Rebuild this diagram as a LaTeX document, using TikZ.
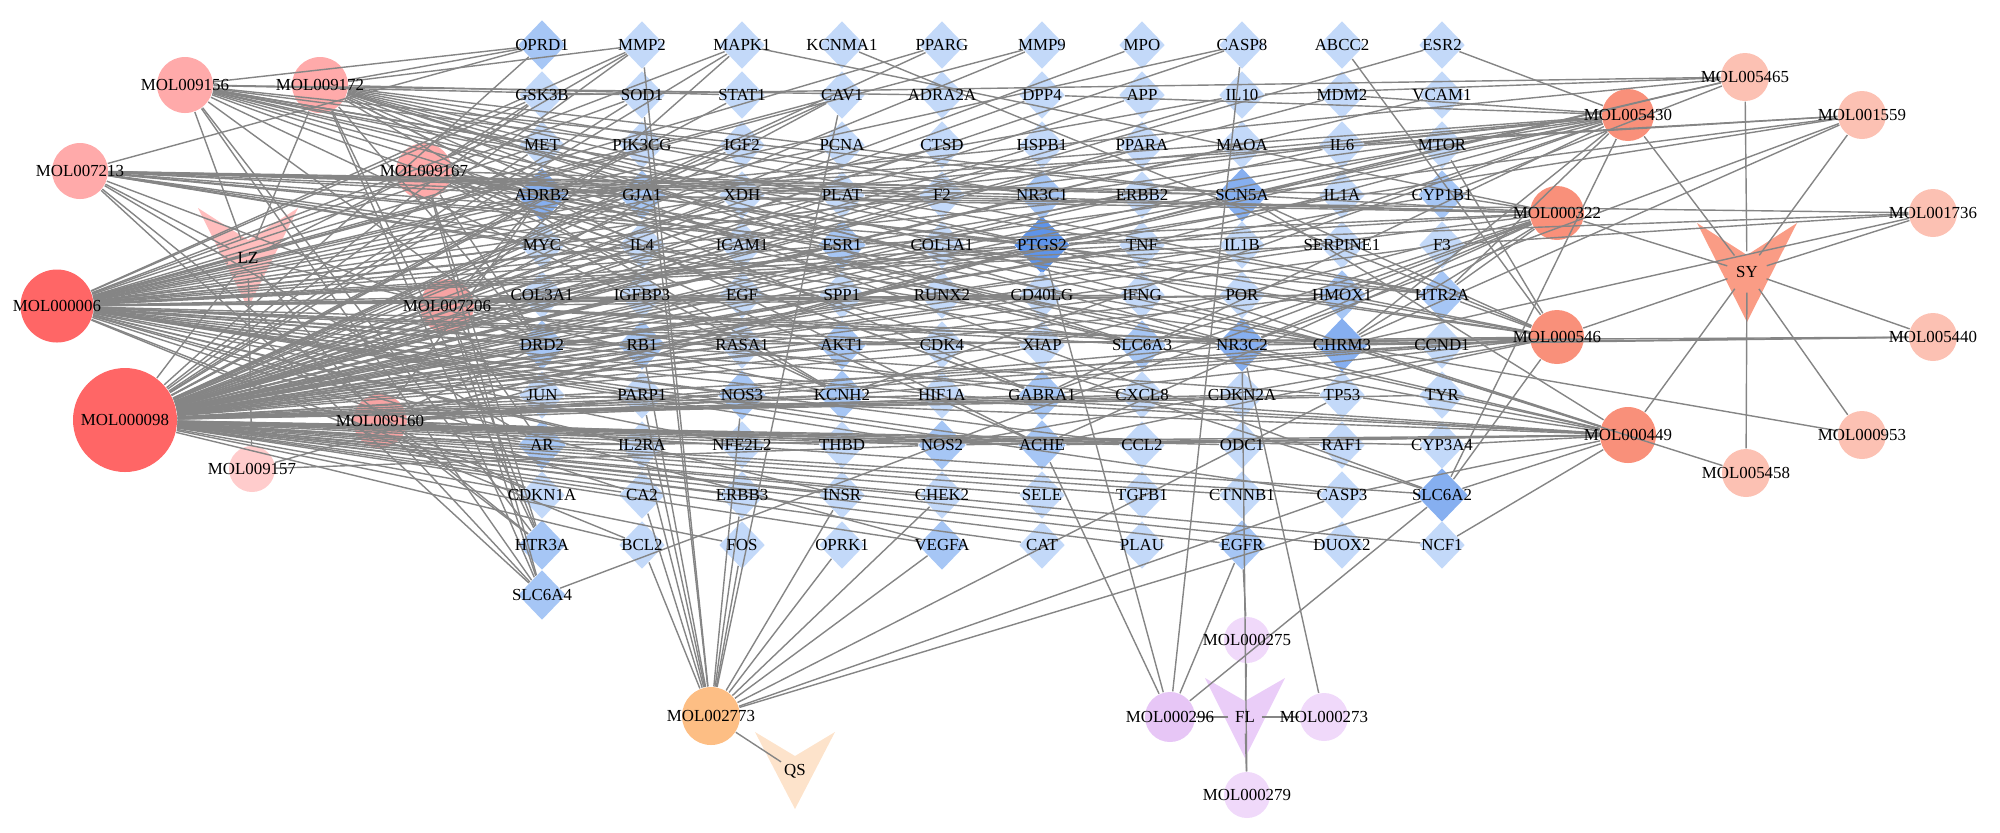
\documentclass[tikz,border=0pt]{standalone}
\usepackage{fontspec}
\setmainfont{Liberation Serif}
\usetikzlibrary{shapes.geometric}
\definecolor{d1}{HTML}{C3D9F9}
\definecolor{d2}{HTML}{A6C6F5}
\definecolor{d3}{HTML}{86AFF0}
\definecolor{d4}{HTML}{5E94EA}
\definecolor{cRed}{HTML}{FF6666}
\definecolor{cPink}{HTML}{FFAAAA}
\definecolor{cPinkM}{HTML}{F6A3A3}
\definecolor{cPinkL}{HTML}{FFCCCC}
\definecolor{cLZ}{HTML}{FFBDBD}
\definecolor{cSal}{HTML}{F9907A}
\definecolor{cSalL}{HTML}{FCC1B3}
\definecolor{cSY}{HTML}{FA9C85}
\definecolor{cOr}{HTML}{FDBE84}
\definecolor{cQS}{HTML}{FDE3CB}
\definecolor{cLav}{HTML}{E7C6F6}
\definecolor{cLavL}{HTML}{F0D9FA}
\definecolor{cFL}{HTML}{EACDF8}
\definecolor{lnc}{HTML}{858585}
\newcommand\linkall[2]{\foreach \tgt in {#2}{\draw[lnk] (#1) -- (\tgt);}}
\def\tlist{OPRD1/2,MMP2/1,MAPK1/1,KCNMA1/1,PPARG/1,MMP9/1,MPO/1,CASP8/1,ABCC2/1,ESR2/1,
GSK3B/1,SOD1/1,STAT1/1,CAV1/1,ADRA2A/1,DPP4/1,APP/1,IL10/1,MDM2/1,VCAM1/1,
MET/1,PIK3CG/1,IGF2/1,PCNA/1,CTSD/1,HSPB1/1,PPARA/1,MAOA/1,IL6/1,MTOR/1,
ADRB2/3,GJA1/2,XDH/1,PLAT/1,F2/1,NR3C1/2,ERBB2/1,SCN5A/3,IL1A/1,CYP1B1/2,
MYC/1,IL4/1,ICAM1/1,ESR1/2,COL1A1/1,PTGS2/4,TNF/1,IL1B/1,SERPINE1/1,F3/1,
COL3A1/1,IGFBP3/1,EGF/1,SPP1/1,RUNX2/1,CD40LG/1,IFNG/1,POR/1,HMOX1/2,HTR2A/2,
DRD2/2,RB1/2,RASA1/1,AKT1/2,CDK4/1,XIAP/1,SLC6A3/2,NR3C2/3,CHRM3/3,CCND1/1,
JUN/1,PARP1/1,NOS3/2,KCNH2/2,HIF1A/1,GABRA1/2,CXCL8/1,CDKN2A/1,TP53/1,TYR/1,
AR/2,IL2RA/1,NFE2L2/1,THBD/1,NOS2/2,ACHE/2,CCL2/1,ODC1/1,RAF1/1,CYP3A4/1,
CDKN1A/1,CA2/1,ERBB3/1,INSR/1,CHEK2/1,SELE/1,TGFB1/1,CTNNB1/1,CASP3/1,SLC6A2/3,
HTR3A/2,BCL2/1,FOS/1,OPRK1/1,VEGFA/2,CAT/1,PLAU/1,EGFR/2,DUOX2/1,NCF1/1,
SLC6A4/2}
\def\clist{MOL000098/125/420/10.4/cRed,MOL000006/57/306/7.3/cRed,
MOL009156/185/85/5.6/cPink,MOL009172/320/85/5.6/cPink,MOL007213/80/171/5.6/cPink,
MOL009167/424/171/5.6/cPink,MOL007206/447/306/5.4/cPinkM,MOL009160/380/421/5.4/cPinkM,
MOL009157/252/469/4.6/cPinkL,
MOL005465/1745/77/4.8/cSalL,MOL005430/1628/115/5.2/cSal,MOL001559/1862/115/4.8/cSalL,
MOL000322/1557/213/5.4/cSal,MOL001736/1933/213/4.8/cSalL,MOL000546/1557/337/5.4/cSal,
MOL005440/1933/337/4.8/cSalL,MOL000449/1628/435/5.6/cSal,MOL000953/1862/435/4.8/cSalL,
MOL005458/1746/473/4.8/cSalL,
MOL002773/711/716/5.8/cOr,MOL000296/1170/717/5.0/cLav,MOL000273/1324/717/4.8/cLavL,
MOL000275/1247/640/4.6/cLavL,MOL000279/1247/795/4.6/cLavL}
\begin{document}
\begin{tikzpicture}[x=0.1mm,y=-0.1mm,
  tg/.style={diamond,inner sep=0pt,draw=none},
  cp/.style={circle,inner sep=0pt,draw=none},
  hub/.style={circle,inner sep=0pt,minimum size=4mm},
  lnk/.style={draw=lnc,line width=0.4pt},
  lbl/.style={inner sep=0pt,font=\fontsize{4.8pt}{5.5pt}\selectfont}]
\useasboundingbox (0,0) rectangle (2000,832);
% herb shapes
\fill[cLZ] (198,208) -- (248,240) -- (298,208) -- (248,308) -- cycle;
\fill[cSY] (1697,223) -- (1747,255) -- (1797,223) -- (1747,322) -- cycle;
\fill[cQS] (755,732) -- (795,756) -- (835,732) -- (795,809) -- cycle;
\fill[cFL] (1205,678) -- (1245,701) -- (1285,678) -- (1245,758) -- cycle;
\node[hub] (LZ) at (248,258) {};
\node[hub] (SY) at (1747,272) {};
\node[hub,minimum size=3.2mm] (QS) at (795,771) {};
\node[hub,minimum size=3.2mm] (FL) at (1245,717) {};
% targets
\foreach \n/\lv [count=\idx from 0] in \tlist {
  \pgfmathtruncatemacro\cc{mod(\idx,10)}
  \pgfmathtruncatemacro\rr{int(\idx/10)}
  \ifcase\lv\or\def\ww{4.6}\def\hh{4.8}\or\def\ww{4.8}\def\hh{5.0}\or\def\ww{5.2}\def\hh{5.4}\or\def\ww{5.6}\def\hh{5.8}\fi
  \node[tg,fill=d\lv,minimum width=\ww mm,minimum height=\hh mm] (\n) at ({542+100*\cc},{45+50*\rr}) {};
}
% compounds
\foreach \n/\x/\y/\s/\c in \clist {
  \node[cp,fill=\c,minimum size=\s mm] (\n) at (\x,\y) {};
}
% edges
\linkall{MOL000098}{OPRD1,MMP2,MAPK1,PPARG,MMP9,MPO,CASP8,ESR2,
GSK3B,SOD1,STAT1,CAV1,DPP4,APP,IL10,MDM2,VCAM1,
MET,PIK3CG,IGF2,PCNA,CTSD,HSPB1,PPARA,MAOA,IL6,MTOR,
ADRB2,GJA1,XDH,PLAT,F2,NR3C1,ERBB2,SCN5A,IL1A,CYP1B1,
MYC,IL4,ICAM1,ESR1,COL1A1,PTGS2,TNF,IL1B,SERPINE1,F3,
COL3A1,IGFBP3,EGF,SPP1,RUNX2,CD40LG,IFNG,POR,HMOX1,
DRD2,RB1,RASA1,AKT1,CDK4,XIAP,CCND1,
JUN,PARP1,NOS3,KCNH2,HIF1A,CXCL8,CDKN2A,TP53,TYR,
AR,IL2RA,NFE2L2,THBD,NOS2,ACHE,CCL2,ODC1,RAF1,CYP3A4,
CDKN1A,CA2,ERBB3,INSR,CHEK2,SELE,TGFB1,CTNNB1,CASP3,
BCL2,FOS,VEGFA,CAT,PLAU,EGFR,DUOX2,NCF1}
\linkall{MOL000006}{GSK3B,MMP2,MAPK1,PPARG,MMP9,CASP8,SOD1,CAV1,IL10,MET,PIK3CG,IGF2,PCNA,IL6,
ADRB2,GJA1,XDH,PLAT,F2,ERBB2,MYC,IL4,ICAM1,ESR1,PTGS2,TNF,IL1B,SERPINE1,COL3A1,EGF,SPP1,
CD40LG,IFNG,HMOX1,DRD2,RB1,AKT1,CDK4,XIAP,CCND1,JUN,PARP1,NOS3,KCNH2,HIF1A,CXCL8,TP53,
AR,IL2RA,NFE2L2,NOS2,ACHE,CCL2,CDKN1A,CA2,INSR,BCL2,VEGFA,CASP3}
\linkall{MOL009156}{OPRD1,SOD1,MET,ADRB2,GJA1,XDH,PLAT,NR3C1,SCN5A,PTGS2,CHRM3,HTR2A,SLC6A3,DRD2,SLC6A4,HTR3A,KCNH2,ADRA2A,GABRA1}
\linkall{MOL009172}{OPRD1,MMP2,ADRB2,PTGS2,SCN5A,NR3C1,CHRM3,SLC6A2,SLC6A3,HTR2A,GABRA1,DRD2,SLC6A4,HTR3A,ACHE,KCNH2,NR3C2,ESR1,STAT1}
\linkall{MOL007213}{OPRD1,ADRB2,GJA1,PLAT,F2,NR3C1,PTGS2,SCN5A,CYP1B1,MYC,ESR1,CHRM3,HTR2A,DRD2,SLC6A3,SLC6A4,HTR3A,AR,NR3C2}
\linkall{MOL009167}{MMP2,GSK3B,ADRB2,PTGS2,SCN5A,CHRM3,NR3C2,SLC6A2,SLC6A3,GABRA1,HTR2A,DRD2,SLC6A4,HTR3A,KCNH2,ACHE}
\linkall{MOL007206}{MAPK1,CAV1,ADRB2,PTGS2,SCN5A,CHRM3,NR3C2,SLC6A3,HMOX1,DRD2,HTR3A,SLC6A4,KCNH2,GABRA1,AR,ESR1}
\linkall{MOL009160}{ADRB2,PTGS2,SCN5A,CHRM3,NR3C2,SLC6A2,GABRA1,ACHE,KCNH2,SLC6A4,HTR3A,DRD2,CDKN1A,AR,NOS2}
\linkall{MOL009157}{PTGS2,NOS2}
\linkall{MOL005430}{ESR2,DPP4,MDM2,IL6,ADRB2,NR3C1,SCN5A,PTGS2,TNF,IL1B,ESR1,CHRM3,HTR2A,GABRA1,KCNH2,SLC6A2,XDH,PLAT}
\linkall{MOL000322}{MAPK1,F2,PLAT,ADRB2,SCN5A,PTGS2,ESR1,SLC6A3,NR3C2,CHRM3,HTR2A,DRD2,GABRA1,KCNH2,ACHE,CYP1B1,SLC6A4}
\linkall{MOL000546}{KCNMA1,ABCC2,MTOR,ADRB2,SCN5A,PTGS2,COL1A1,HMOX1,HTR2A,AKT1,NR3C2,CHRM3,CCND1,NOS3,KCNH2,GABRA1,ACHE,NOS2,SLC6A2}
\linkall{MOL000449}{ADRB2,SCN5A,PTGS2,SLC6A3,NR3C2,CHRM3,JUN,KCNH2,HIF1A,GABRA1,TP53,AR,NOS2,ACHE,CYP3A4,CASP3,SLC6A2,NCF1}
\linkall{MOL005465}{GSK3B,IL10,ADRB2,SCN5A,PTGS2,CYP1B1}
\linkall{MOL001559}{IL6,ADRB2,SCN5A,PTGS2,NR3C2,CHRM3}
\linkall{MOL001736}{ADRB2,PTGS2,F3,CHRM3}
\linkall{MOL005440}{CHRM3,NR3C2,DRD2}
\linkall{MOL000953}{CHRM3}
\linkall{MOL005458}{CHRM3}
\linkall{MOL002773}{MMP2,SOD1,CAV1,RB1,NOS3,PARP1,IL2RA,BCL2,CA2,FOS,ERBB3,INSR,OPRK1,CHEK2,VEGFA,CASP3,SLC6A2,TP53}
\linkall{MOL000296}{PTGS2,ACHE,CASP8,EGFR,SLC6A2}
\linkall{MOL000273}{NR3C2}
\linkall{MOL000275}{EGFR}
\linkall{MOL000279}{NR3C2}
\linkall{LZ}{MOL009156,MOL009172,MOL007213,MOL009167,MOL000006,MOL007206,MOL000098,MOL009160,MOL009157}
\linkall{SY}{MOL005465,MOL005430,MOL001559,MOL000322,MOL001736,MOL000546,MOL005440,MOL000449,MOL000953,MOL005458}
\linkall{QS}{MOL002773}
\linkall{FL}{MOL000296,MOL000273,MOL000275,MOL000279}
% labels
\foreach \n/\lv in \tlist { \node[lbl] (t-\n) at (\n) {\n}; }
\foreach \n/\x/\y/\s/\c in \clist { \node[lbl] (t-\n) at (\n) {\n}; }
\foreach \n in {LZ,SY,QS,FL} { \node[lbl] (t-\n) at (\n) {\n}; }
\end{tikzpicture}
\end{document}
